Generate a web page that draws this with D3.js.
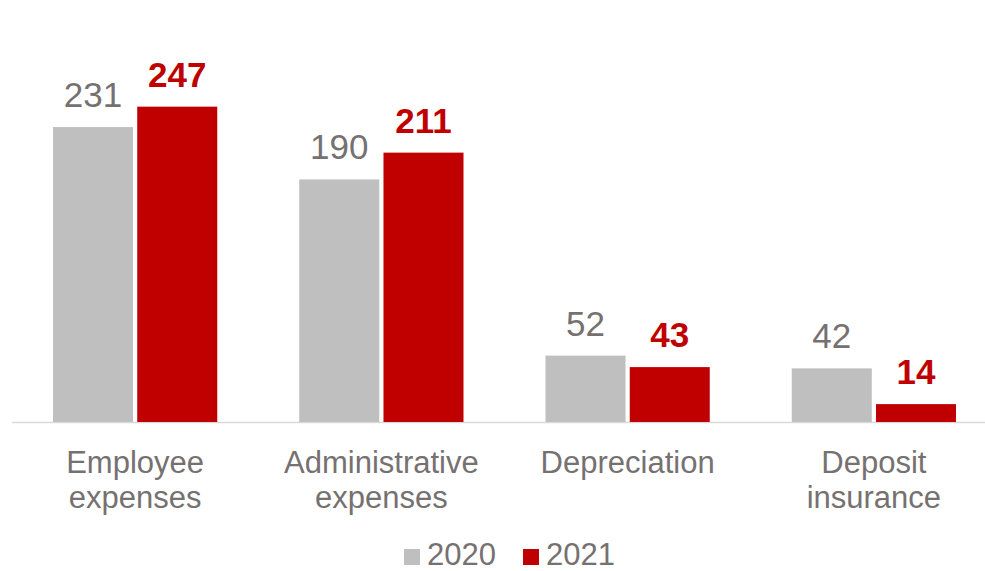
<!DOCTYPE html>
<html>
<head>
<meta charset="utf-8">
<script src="https://cdn.jsdelivr.net/npm/d3@7"></script>
<style>
  body { margin: 0; background: #fff; }
  svg { display: block; font-family: "Liberation Sans", Arial, sans-serif; }
</style>
</head>
<body>
<svg id="chart" width="985" height="571"></svg>
<script>
(function () {
    // data
    const categories = [
        ["Employee", "expenses"],
        ["Administrative", "expenses"],
        ["Depreciation"],
        ["Deposit", "insurance"],
    ];
    const series = ["2020", "2021"];
    const values2020 = [231, 190, 52, 42];
    const values2021 = [247, 211, 43, 14];

    const colors = { "2020": "#bfbfbf", "2021": "#c00000" };
    const labelColors = { "2020": "#767171", "2021": "#c00000" };

    const svg = d3.select("#chart");
    const baseY = 422;

    const x0 = d3.scaleBand()
        .domain(d3.range(categories.length))
        .range([12, 997])
        .paddingInner(0.333)
        .paddingOuter(0.1665);

    const x1 = d3.scaleBand()
        .domain(series)
        .range([0, x0.bandwidth()])
        .paddingInner(0.05);

    const y = d3.scaleLinear().domain([0, 300]).range([baseY, 39]);

    const rows = categories.map((c, i) => ({
        idx: i,
        vals: [
            { s: "2020", v: values2020[i] },
            { s: "2021", v: values2021[i] },
        ],
    }));

    // axis line
    svg.append("line")
        .attr("x1", 12)
        .attr("x2", 985)
        .attr("y1", baseY + 0.5)
        .attr("y2", baseY + 0.5)
        .attr("stroke", "#d9d9d9")
        .attr("stroke-width", 1.5);

    const groups = svg.selectAll("g.group")
        .data(rows)
        .enter()
        .append("g")
        .attr("class", "group")
        .attr("transform", (d) => `translate(${x0(d.idx)},0)`);

    groups.selectAll("rect")
        .data((d) => d.vals)
        .enter()
        .append("rect")
        .attr("x", (d) => x1(d.s))
        .attr("y", (d) => y(d.v))
        .attr("width", x1.bandwidth())
        .attr("height", (d) => baseY - y(d.v))
        .attr("fill", (d) => colors[d.s]);

    groups.selectAll("text.val")
        .data((d) => d.vals)
        .enter()
        .append("text")
        .attr("class", "val")
        .attr("x", (d) => x1(d.s) + x1.bandwidth() / 2)
        .attr("y", (d) => y(d.v) - 20)
        .attr("text-anchor", "middle")
        .attr("font-size", 35)
        .attr("font-weight", (d) => (d.s === "2021" ? "bold" : "normal"))
        .attr("fill", (d) => labelColors[d.s])
        .text((d) => d.v);

    // category labels
    const cat = svg.selectAll("text.cat")
        .data(categories)
        .enter()
        .append("text")
        .attr("class", "cat")
        .attr("text-anchor", "middle")
        .attr("font-size", 31)
        .attr("fill", "#767171");

    cat.selectAll("tspan")
        .data((d, i) => d.map((t) => ({ t: t, i: i })))
        .enter()
        .append("tspan")
        .attr("x", (d) => x0(d.i) + x0.bandwidth() / 2)
        .attr("y", (d, j) => 473 + j * 35)
        .text((d) => d.t);

    // legend
    const legend = svg.append("g").attr("id", "legend");
    const legendX = [404, 523];
    series.forEach((s, i) => {
        legend.append("rect")
            .attr("x", legendX[i])
            .attr("y", 549)
            .attr("width", 16)
            .attr("height", 16)
            .attr("fill", colors[s]);
        legend.append("text")
            .attr("x", legendX[i] + 23)
            .attr("y", 565)
            .attr("font-size", 31)
            .attr("fill", "#767171")
            .text(s);
    });
})();
</script>
</body>
</html>
